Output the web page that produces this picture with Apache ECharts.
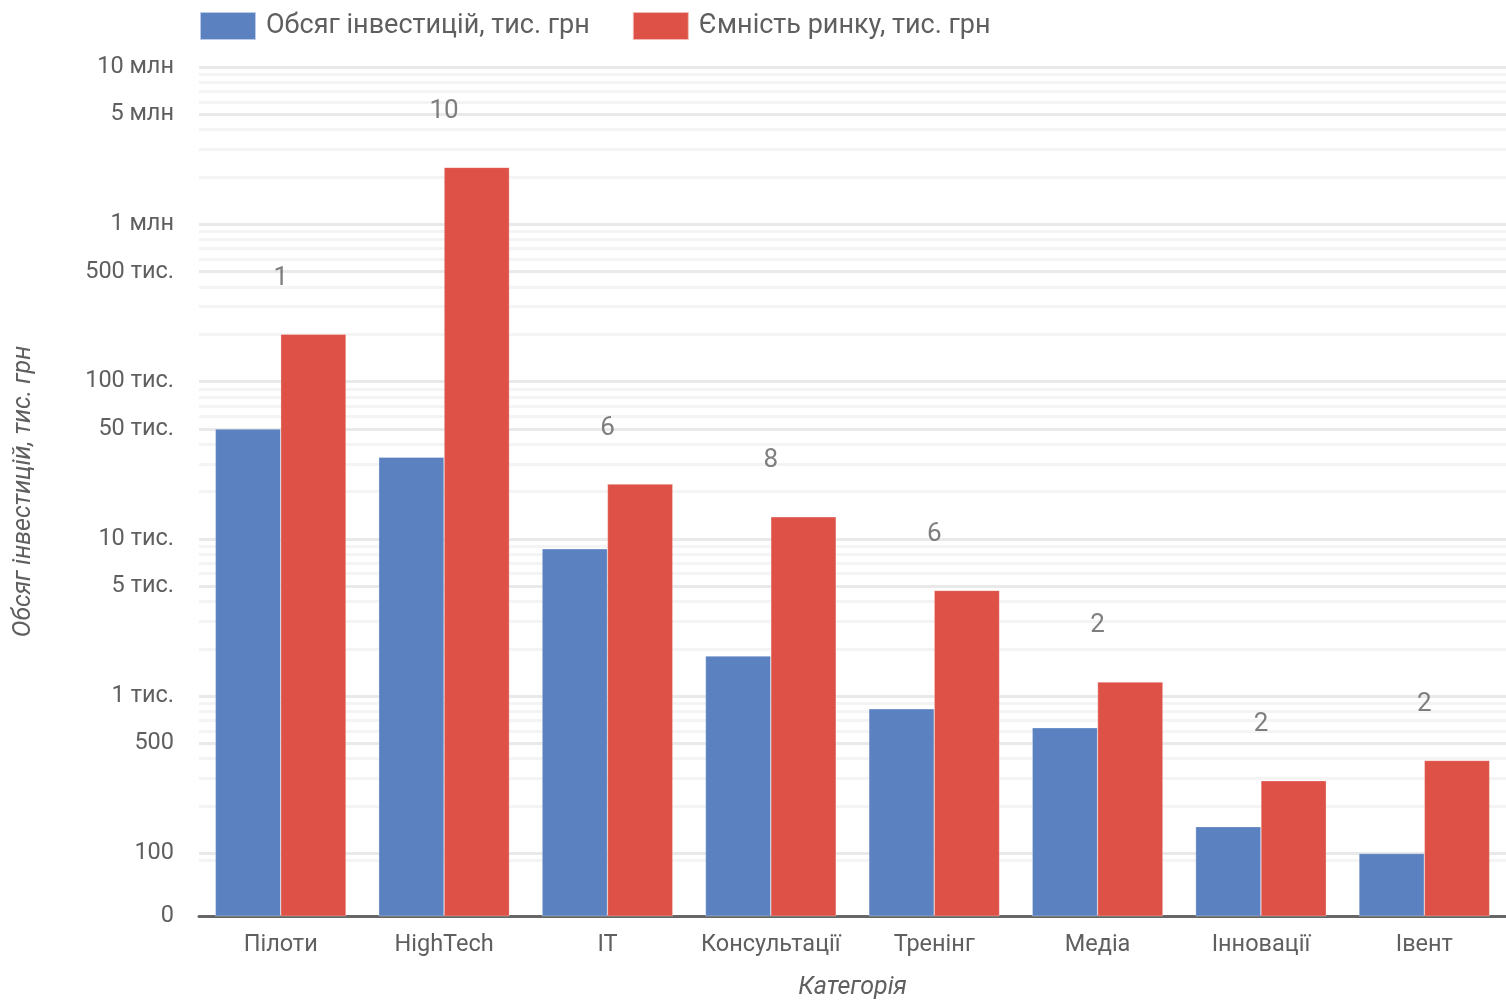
<!DOCTYPE html>
<html>
<head>
<meta charset="utf-8">
<script src="https://cdn.jsdelivr.net/npm/echarts@6/dist/echarts.min.js"></script>
<style>
html,body{margin:0;padding:0;background:#fff;}
#chart{width:1506px;height:1005px;}
</style>
</head>
<body>
<div id="chart"></div>
<script>
const categories = ['Пілоти', 'HighTech', 'IT', 'Консультації', 'Тренінг', 'Медіа', 'Інновації', 'Івент'];
const investment = [50000, 33000, 8650, 1800, 830, 630, 148, 100];
const marketSize = [200000, 2300000, 22300, 13800, 4700, 1230, 290, 390];
const counts = [1, 10, 6, 8, 6, 2, 2, 2];
const seriesNames = ['Обсяг інвестицій, тис. грн', 'Ємність ринку, тис. грн'];
const axisMinValue = 40;
const axisMaxValue = 10000000;
const majorTickValues = [40, 100, 500, 1000, 5000, 10000, 50000, 100000, 500000, 1000000, 5000000, 10000000];
const majorTickLabels = ['0', '100', '500', '1 тис.', '5 тис.', '10 тис.', '50 тис.', '100 тис.', '500 тис.', '1 млн', '5 млн', '10 млн'];
const minorTickValues = [90, 200, 300, 400, 600, 700, 800, 900, 2000, 3000, 4000, 6000, 7000, 8000, 9000,
  20000, 30000, 40000, 60000, 70000, 80000, 90000, 200000, 300000, 400000, 600000, 700000, 800000, 900000,
  2000000, 3000000, 4000000, 6000000, 7000000, 8000000, 9000000];

const L = v => Math.log10(v);
const yMin = L(axisMinValue), yMax = L(axisMaxValue);
const textColor = '#5f5f5f';
const font = 'Roboto, "Noto Sans", sans-serif';

const chart = echarts.init(document.getElementById('chart'), null, {renderer: 'canvas'});
chart.setOption({
  animation: false,
  textStyle: {fontFamily: font},
  legend: {
    top: 11, left: 199, padding: 0,
    icon: 'rect',
    itemWidth: 56, itemHeight: 28, itemGap: 42,
    textStyle: {fontSize: 27, color: textColor, fontFamily: font, padding: [0, 0, 0, 5]},
    data: seriesNames
  },
  grid: {left: 199, right: 0, top: 67, bottom: 83, containLabel: false},
  xAxis: {
    type: 'category',
    data: categories,
    name: 'Категорія',
    nameLocation: 'middle',
    nameGap: 59,
    nameTextStyle: {fontSize: 25, fontStyle: 'italic', color: textColor, fontFamily: font},
    axisLine: {lineStyle: {color: '#666', width: 3}},
    axisTick: {show: false},
    axisLabel: {interval: 0, fontSize: 23.5, color: textColor, margin: 17, fontFamily: font}
  },
  yAxis: [{
    type: 'value',
    min: yMin, max: yMax,
    name: 'Обсяг інвестицій, тис. грн',
    nameLocation: 'middle',
    nameGap: 163,
    nameTextStyle: {fontSize: 25, fontStyle: 'italic', color: textColor, fontFamily: font},
    axisLine: {show: false},
    axisTick: {show: false, customValues: majorTickValues.map(L)},
    axisLabel: {
      customValues: majorTickValues.map(L),
      fontSize: 23.5, color: textColor, margin: 25, fontFamily: font,
      formatter: v => {
        const i = majorTickValues.findIndex(t => Math.abs(L(t) - v) < 1e-6);
        return i >= 0 ? majorTickLabels[i] : '';
      }
    },
    splitLine: {lineStyle: {color: '#e9e9ea', width: 3}}
  }, {
    type: 'value',
    min: yMin, max: yMax,
    position: 'left',
    axisLine: {show: false},
    axisTick: {show: false, customValues: minorTickValues.map(L)},
    axisLabel: {show: false, customValues: minorTickValues.map(L)},
    splitLine: {lineStyle: {color: '#f4f4f5', width: 3}}
  }],
  series: [{
    name: seriesNames[0],
    type: 'bar',
    clip: true,
    barGap: '0%',
    barCategoryGap: '20%',
    itemStyle: {color: '#5b81c1', borderColor: 'rgba(255,255,255,0.6)', borderWidth: 0.5},
    data: investment.map(L),
    z: 3
  }, {
    name: seriesNames[1],
    type: 'bar',
    clip: true,
    barGap: '0%',
    barCategoryGap: '20%',
    itemStyle: {color: '#de5146', borderColor: 'rgba(255,255,255,0.6)', borderWidth: 0.5},
    data: marketSize.map(L),
    z: 3
  }, {
    name: 'counts',
    type: 'scatter',
    symbolSize: 0,
    silent: true,
    data: marketSize.map(v => L(v)),
    label: {
      show: true, position: 'top', distance: 43,
      fontSize: 26, color: textColor, fontFamily: font,
      formatter: p => String(counts[p.dataIndex])
    },
    z: 4
  }]
});
</script>
</body>
</html>
